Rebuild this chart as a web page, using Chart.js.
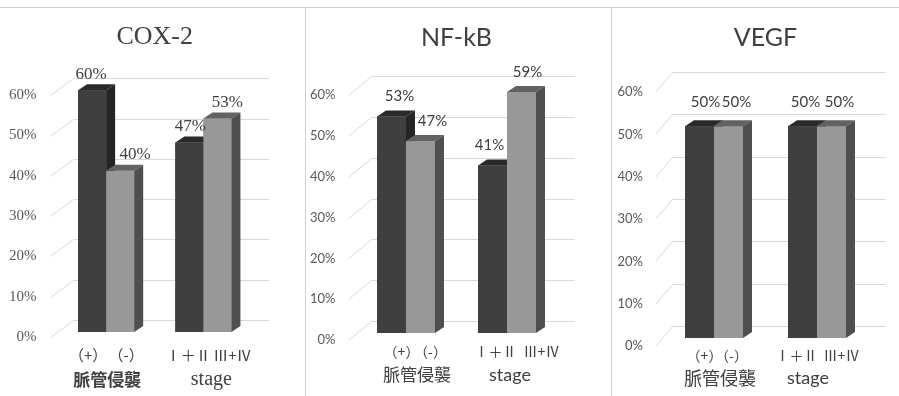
<!DOCTYPE html>
<html>
<head>
<meta charset="utf-8">
<script src="https://cdn.jsdelivr.net/npm/chart.js@4.4.1/dist/chart.umd.min.js"></script>
<style>
  body { margin: 0; background: #fff; }
  #wrap { position: relative; width: 899px; height: 396px; overflow: hidden; }
  canvas { position: absolute; top: 0; }
  .rule { position: absolute; background: #d0d0d0; }
</style>
</head>
<body>
<div id="wrap">
  <div class="rule" style="left:0;top:7px;width:899px;height:1px"></div>
  <div class="rule" style="left:305px;top:7px;width:1px;height:389px"></div>
  <div class="rule" style="left:611px;top:7px;width:1px;height:389px"></div>
  <canvas id="cox" width="305" height="396" style="left:0"></canvas>
  <canvas id="nfkb" width="306" height="396" style="left:305px"></canvas>
  <canvas id="vegf" width="288" height="396" style="left:611px"></canvas>
</div>
<script>
// groups on the x axis and the label under each bar
var groupLabels = ['脈管侵襲', 'stage'];
var barLabels = [['（+）', '（-）'], ['Ⅰ＋Ⅱ', 'Ⅲ+Ⅳ']];
var yTicks = [0, 10, 20, 30, 40, 50, 60];

// first bar of each group (dark) and second bar (light), in %
var coxDark = [60, 47];
var coxLight = [40, 53];
var nfkbDark = [53, 41];
var nfkbLight = [47, 59];
var vegfDark = [50, 50];
var vegfLight = [50, 50];

var DEPTH_X = 9, DEPTH_Y = 6;

// back wall grid lines with the little diagonal going to the tick label
var wallPlugin = {
    id: 'wall',
    beforeDatasetsDraw: function (chart) {
        var p = chart.options.panel, y = chart.scales.y, a = chart.chartArea, ctx = chart.ctx;
        ctx.save();
        ctx.strokeStyle = '#d9d9d9';
        ctx.lineWidth = 1;
        yTicks.forEach(function (v) {
            var yf = Math.round(y.getPixelForValue(v)) + 0.5;
            ctx.beginPath();
            ctx.moveTo(a.left - 7, yf + p.tickShift);
            ctx.lineTo(a.left + p.wallDx, yf - 12);
            ctx.lineTo(a.right + 17, yf - 12);
            ctx.stroke();
        });
        ctx.restore();
    }
};

// redraw every bar as a box (front, top, side), dark series first so the
// light bar in front hides the dark bar's side face
var cubePlugin = {
    id: 'cube',
    afterDatasetsDraw: function (chart) {
        var ctx = chart.ctx;
        ctx.save();
        chart.data.datasets.forEach(function (ds, di) {
            chart.getDatasetMeta(di).data.forEach(function (bar) {
                var l = bar.x - bar.width / 2, r = bar.x + bar.width / 2;
                ctx.fillStyle = ds.backgroundColor;
                ctx.fillRect(l, bar.y, bar.width, bar.base - bar.y);
                ctx.fillStyle = ds.topColor;
                ctx.beginPath();
                ctx.moveTo(l, bar.y);
                ctx.lineTo(r, bar.y);
                ctx.lineTo(r + DEPTH_X, bar.y - DEPTH_Y);
                ctx.lineTo(l + DEPTH_X, bar.y - DEPTH_Y);
                ctx.closePath();
                ctx.fill();
                ctx.fillStyle = ds.sideColor;
                ctx.beginPath();
                ctx.moveTo(r, bar.y);
                ctx.lineTo(r + DEPTH_X, bar.y - DEPTH_Y);
                ctx.lineTo(r + DEPTH_X, bar.base - DEPTH_Y);
                ctx.lineTo(r, bar.base);
                ctx.closePath();
                ctx.fill();
            });
        });
        ctx.restore();
    }
};

// value labels, bar labels and group labels
var textPlugin = {
    id: 'texts',
    afterDraw: function (chart) {
        var p = chart.options.panel, ctx = chart.ctx, x = chart.scales.x, a = chart.chartArea;
        ctx.save();
        ctx.textAlign = 'center';
        ctx.textBaseline = 'middle';
        ctx.fillStyle = '#404040';
        chart.data.datasets.forEach(function (ds, di) {
            chart.getDatasetMeta(di).data.forEach(function (bar, i) {
                ctx.font = p.valueFont;
                ctx.fillText(ds.data[i] + '%', bar.x + p.valueDx[i][di], bar.y + p.valueDy);
                ctx.font = p.barFont;
                ctx.fillText(barLabels[i][di], bar.x + p.barDx[i][di], a.bottom + p.barDy);
            });
        });
        groupLabels.forEach(function (g, i) {
            ctx.font = p.groupFont[i];
            ctx.fillText(g, x.getPixelForValue(i) + p.groupDx[i], a.bottom + p.groupDy);
        });
        ctx.restore();
    }
};

function makePanel(id, title, dark, light, p) {
    return new Chart(document.getElementById(id), {
        type: 'bar',
        data: {
            labels: groupLabels,
            datasets: [
                { data: dark, backgroundColor: '#3f3f3f', topColor: '#2a2a2a', sideColor: '#252525' },
                { data: light, backgroundColor: '#989898', topColor: '#626262', sideColor: '#4f4f4f' }
            ]
        },
        options: {
            responsive: false,
            animation: false,
            events: [],
            panel: p,
            categoryPercentage: p.catPct,
            barPercentage: 1,
            layout: { padding: { left: 0, right: p.padRight, top: 0, bottom: p.padBottom } },
            scales: {
                x: { display: false },
                y: {
                    min: 0,
                    max: 60,
                    afterFit: function (s) { s.width = p.axisWidth; },
                    afterBuildTicks: function (s) { s.ticks = yTicks.map(function (v) { return { value: v }; }); },
                    grid: { display: false, drawTicks: false },
                    border: { display: false },
                    ticks: {
                        padding: p.tickPad,
                        labelOffset: p.tickShift,
                        color: '#595959',
                        font: p.tickFont,
                        callback: function (v) { return v + '%'; }
                    }
                }
            },
            plugins: {
                legend: { display: false },
                tooltip: { enabled: false },
                title: {
                    display: true,
                    text: title,
                    fullSize: false,
                    color: '#404040',
                    font: p.titleFont,
                    padding: p.titlePad
                }
            }
        },
        plugins: [wallPlugin, cubePlugin, textPlugin]
    });
}

var serif = '"Liberation Serif", "Noto Sans CJK JP"';
var sans = 'Lato, "Noto Sans CJK JP"';
var cjk = '"Noto Sans CJK JP"';

makePanel('cox', 'COX-2', coxDark, coxLight, {
    catPct: 0.577, padRight: 53, padBottom: 64, axisWidth: 57.5,
    tickPad: 21, tickShift: 5, wallDx: 16,
    tickFont: { family: serif, size: 15 },
    titleFont: { family: serif, size: 26, weight: 'normal' },
    titlePad: { top: 22, bottom: 37 },
    valueFont: '17px ' + serif, valueDy: -16, valueDx: [[-1, 15], [1, 10]],
    barFont: '15px ' + cjk, barDy: 23, barDx: [[-4, 6], [-1, 15]],
    groupFont: ['bold 17px ' + cjk, '20px ' + serif],
    groupDx: [1, 8], groupDy: 48
});

makePanel('nfkb', 'NF-kB', nfkbDark, nfkbLight, {
    catPct: 0.574, padRight: 53.5, padBottom: 63, axisWidth: 50.5,
    tickPad: 20, tickShift: 7, wallDx: 16,
    tickFont: { family: sans, size: 13 },
    titleFont: { family: sans, size: 25, weight: 'normal' },
    titlePad: { top: 23, bottom: 35 },
    valueFont: '15px ' + sans, valueDy: -20, valueDx: [[8, 12], [-3, 6]],
    barFont: '14px ' + cjk, barDy: 19, barDx: [[10, 10], [3, 20]],
    groupFont: ['17px ' + cjk, '18px ' + sans],
    groupDx: [11, 3], groupDy: 42
});

makePanel('vegf', 'VEGF', vegfDark, vegfLight, {
    catPct: 0.563, padRight: 30.5, padBottom: 58, axisWidth: 51.5,
    tickPad: 19.5, tickShift: 8, wallDx: 10,
    tickFont: { family: sans, size: 13 },
    titleFont: { family: sans, size: 25, weight: 'normal' },
    titlePad: { top: 23, bottom: 31 },
    valueFont: '15px ' + sans, valueDy: -24, valueDx: [[6, 8], [3, 8]],
    barFont: '14px ' + cjk, barDy: 18, barDx: [[5, 3], [-6, 10]],
    groupFont: ['18px ' + cjk, '18px ' + sans],
    groupDx: [6, -9], groupDy: 40
});
</script>
</body>
</html>
